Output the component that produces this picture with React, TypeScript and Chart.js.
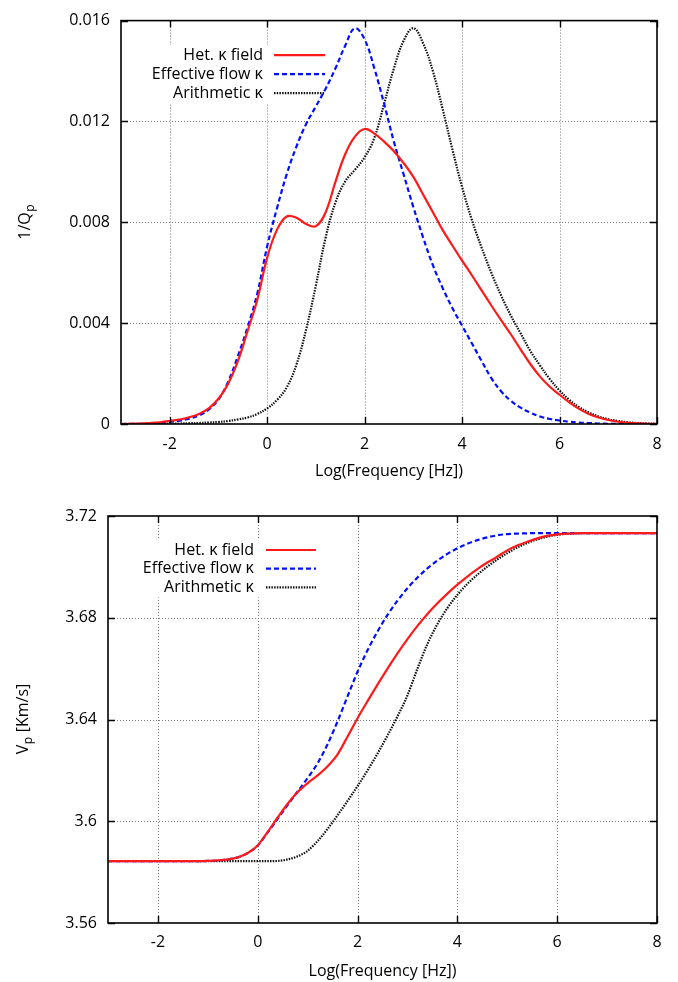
import React, { useEffect, useRef } from "react";
import { Chart, registerables } from "chart.js";

Chart.register(...registerables);

// ---------- data ----------
const logFreq = [
  -3, -2.8, -2.6, -2.4, -2.2, -2, -1.8, -1.6, -1.4, -1.2, -1, -0.8, -0.6, -0.4, -0.2,
  0, 0.2, 0.4, 0.6, 0.8, 1, 1.2, 1.4, 1.6, 1.8, 2, 2.2, 2.4, 2.6, 2.8, 3, 3.2, 3.4, 3.6, 3.8,
  4, 4.2, 4.4, 4.6, 4.8, 5, 5.2, 5.4, 5.6, 5.8, 6, 6.2, 6.4, 6.6, 6.8, 7, 7.2, 7.4, 7.6, 7.8, 8,
];

const seriesLabels = ["Het. κ field", "Effective flow κ", "Arithmetic κ"];

// 1/Qp
const qHet = [
  0, 0.00001, 0.00002, 0.00004, 0.00007, 0.00012, 0.00018, 0.00027, 0.0004, 0.00062, 0.001, 0.0016, 0.0025, 0.0037, 0.00495,
  0.0066, 0.0077, 0.00823, 0.00818, 0.00793, 0.00785, 0.0084, 0.0096, 0.0107, 0.0114, 0.0117, 0.01152, 0.0112, 0.01082, 0.01035,
  0.0098, 0.0091, 0.0084, 0.0077, 0.00708, 0.00648, 0.0059, 0.0053, 0.0047, 0.00412, 0.00356, 0.00296, 0.00238, 0.00188, 0.00148,
  0.00116, 0.00086, 0.0006, 0.0004, 0.00026, 0.00016, 0.00009, 0.00005, 0.00003, 0.00001, 0.00001,
];
const qEff = [
  0, 0.00001, 0.00001, 0.00002, 0.00004, 0.00008, 0.00013, 0.00021, 0.00034, 0.00057, 0.00097, 0.00168, 0.0027, 0.00385, 0.0052,
  0.00705, 0.00855, 0.0099, 0.011, 0.0119, 0.0126, 0.0133, 0.0141, 0.015, 0.0157, 0.01525, 0.0141, 0.0127, 0.0112, 0.0099,
  0.0086, 0.0074, 0.0063, 0.0054, 0.0046, 0.0039, 0.0032, 0.0025, 0.00182, 0.0013, 0.00092, 0.00065, 0.00045, 0.0003, 0.0002,
  0.00014, 0.00009, 0.00006, 0.00004, 0.00002, 0.00001, 0.00001, 0, 0, 0, 0,
];
const qArith = [
  0, 0, 0, 0.00001, 0.00001, 0.00002, 0.00002, 0.00003, 0.00004, 0.00006, 0.00008, 0.00012, 0.00018, 0.00026, 0.0004,
  0.00062, 0.00095, 0.00145, 0.00235, 0.00375, 0.0055, 0.0074, 0.00878, 0.00962, 0.01008, 0.01058, 0.01135, 0.0127, 0.0141, 0.0152,
  0.0157, 0.0151, 0.014, 0.0125, 0.0109, 0.0094, 0.0081, 0.007, 0.006, 0.0051, 0.0043, 0.0036, 0.0029, 0.00232, 0.00178,
  0.00133, 0.00096, 0.00067, 0.00046, 0.0003, 0.00019, 0.00012, 0.00007, 0.00004, 0.00002, 0.00001,
];

// Vp [Km/s]
const vHet = [
  3.5843, 3.5843, 3.5843, 3.5843, 3.5843, 3.5843, 3.5843, 3.5843, 3.5843, 3.5843, 3.5844, 3.5846, 3.585, 3.5858, 3.5875,
  3.5905, 3.5958, 3.6015, 3.6069, 3.6115, 3.615, 3.618, 3.6216, 3.6263, 3.6333, 3.6405, 3.6472, 3.6537, 3.66, 3.666,
  3.6716, 3.6768, 3.6815, 3.6857, 3.6895, 3.693, 3.6962, 3.6991, 3.7017, 3.704, 3.7065, 3.7084, 3.7099, 3.7112, 3.7122,
  3.7128, 3.7131, 3.7132, 3.7133, 3.7133, 3.7133, 3.7133, 3.7133, 3.7133, 3.7133, 3.7133,
];
const vEff = [
  3.5843, 3.5843, 3.5843, 3.5843, 3.5843, 3.5843, 3.5843, 3.5843, 3.5843, 3.5843, 3.5844, 3.5846, 3.585, 3.5858, 3.5875,
  3.5905, 3.5956, 3.601, 3.6064, 3.6117, 3.617, 3.6228, 3.6303, 3.6393, 3.6491, 3.6588, 3.6672, 3.6746, 3.6811, 3.6867,
  3.6916, 3.6958, 3.6994, 3.7025, 3.7051, 3.7073, 3.7091, 3.7105, 3.7116, 3.7124, 3.7129, 3.7131, 3.7132, 3.7133, 3.7133,
  3.7133, 3.7133, 3.7133, 3.7133, 3.7133, 3.7133, 3.7133, 3.7133, 3.7133, 3.7133, 3.7133,
];
const vArith = [
  3.5843, 3.5843, 3.5843, 3.5843, 3.5843, 3.5843, 3.5843, 3.5843, 3.5843, 3.5843, 3.5843, 3.5843, 3.5843, 3.5843, 3.5843,
  3.5843, 3.5843, 3.5844, 3.585, 3.5862, 3.5884, 3.5922, 3.597, 3.6024, 3.608, 3.6138, 3.62, 3.6266, 3.6337, 3.6412,
  3.6495, 3.66, 3.6697, 3.6775, 3.6838, 3.689, 3.6933, 3.6969, 3.7001, 3.7029, 3.7054, 3.7076, 3.7094, 3.7108, 3.7119,
  3.7126, 3.713, 3.7132, 3.7133, 3.7133, 3.7133, 3.7133, 3.7133, 3.7133, 3.7133, 3.7133,
];

const xTickValues = [-2, 0, 2, 4, 6, 8];
const qTickValues = [0, 0.004, 0.008, 0.012, 0.016];
const vTickValues = [3.56, 3.6, 3.64, 3.68, 3.72];
const xTitle = "Log(Frequency [Hz])";

// ---------- styling ----------
const FONT = '"Open Sans", "DejaVu Sans", sans-serif';
const FONT_SIZE = 16;
const seriesStyles = [
  { color: "#ff1a1a", width: 2.2, dash: [] as number[] },
  { color: "#0010ff", width: 2.2, dash: [5, 3] },
  { color: "#111111", width: 2.2, dash: [1.5, 1.2] },
];

const gnuplotStyle = {
  id: "gnuplotStyle",
  beforeDatasetsDraw(chart: any, _args: any, opts: any) {
    const { ctx, chartArea: a } = chart;
    const x = chart.scales.x;
    const y = chart.scales.y;
    ctx.save();
    // dotted grid
    ctx.strokeStyle = "#7c7c7c";
    ctx.lineWidth = 1;
    ctx.setLineDash([1, 2]);
    x.ticks.forEach((t: any) => {
      const px = Math.round(x.getPixelForValue(t.value)) + 0.5;
      if (px <= a.left + 2 || px >= a.right - 2) return;
      ctx.beginPath();
      ctx.moveTo(px, a.top);
      ctx.lineTo(px, a.bottom);
      ctx.stroke();
    });
    y.ticks.forEach((t: any) => {
      const py = Math.round(y.getPixelForValue(t.value)) + 0.5;
      if (py <= a.top + 2 || py >= a.bottom - 2) return;
      ctx.beginPath();
      ctx.moveTo(a.left, py);
      ctx.lineTo(a.right, py);
      ctx.stroke();
    });
    // legend (gnuplot key, opaque)
    const ds = chart.data.datasets;
    ctx.font = `${FONT_SIZE}px ${FONT}`;
    const maxW = Math.max(...ds.map((d: any) => ctx.measureText(d.label).width));
    const textRight = a.left + opts.keyTextRight;
    const sStart = a.left + opts.keySampleStart;
    const sEnd = a.left + opts.keySampleEnd;
    const row0 = a.top + opts.keyTop;
    const left = textRight - maxW - 4;
    ctx.setLineDash([]);
    ctx.fillStyle = "#fff";
    ctx.fillRect(left, row0 - 10, sEnd + 3 - left, opts.keyGap * (ds.length - 1) + 20);
    ds.forEach((d: any, i: number) => {
      const ry = row0 + i * opts.keyGap;
      ctx.fillStyle = "#000";
      ctx.textAlign = "right";
      ctx.textBaseline = "middle";
      ctx.fillText(d.label, textRight, ry);
      ctx.strokeStyle = d.borderColor;
      ctx.lineWidth = d.borderWidth;
      ctx.setLineDash(d.borderDash || []);
      ctx.beginPath();
      ctx.moveTo(sStart, ry);
      ctx.lineTo(sEnd, ry);
      ctx.stroke();
    });
    ctx.restore();
  },
  afterDatasetsDraw(chart: any) {
    const { ctx, chartArea: a } = chart;
    const x = chart.scales.x;
    const y = chart.scales.y;
    ctx.save();
    // frame
    ctx.setLineDash([]);
    ctx.strokeStyle = "#000";
    ctx.lineWidth = 1.6;
    ctx.strokeRect(a.left, a.top, a.right - a.left, a.bottom - a.top);
    // inward ticks
    const tl = 7;
    ctx.lineWidth = 1.4;
    x.ticks.forEach((t: any) => {
      const px = Math.round(x.getPixelForValue(t.value)) + 0.5;
      ctx.beginPath();
      ctx.moveTo(px, a.bottom);
      ctx.lineTo(px, a.bottom - tl);
      ctx.moveTo(px, a.top);
      ctx.lineTo(px, a.top + tl);
      ctx.stroke();
    });
    y.ticks.forEach((t: any) => {
      const py = Math.round(y.getPixelForValue(t.value)) + 0.5;
      ctx.beginPath();
      ctx.moveTo(a.left, py);
      ctx.lineTo(a.left + tl, py);
      ctx.moveTo(a.right, py);
      ctx.lineTo(a.right - tl, py);
      ctx.stroke();
    });
    ctx.restore();
  },
  afterDraw(chart: any, _args: any, opts: any) {
    const { ctx, chartArea: a } = chart;
    const [main, sub, rest] = opts.yTitle;
    ctx.save();
    ctx.translate(opts.yTitleX, (a.top + a.bottom) / 2);
    ctx.rotate(-Math.PI / 2);
    ctx.fillStyle = "#000";
    ctx.textBaseline = "alphabetic";
    ctx.textAlign = "left";
    ctx.font = `${FONT_SIZE}px ${FONT}`;
    const w1 = ctx.measureText(main).width;
    const w3 = ctx.measureText(rest).width;
    ctx.font = `12px ${FONT}`;
    const w2 = ctx.measureText(sub).width;
    const sx = -(w1 + w2 + w3) / 2;
    ctx.font = `${FONT_SIZE}px ${FONT}`;
    ctx.fillText(main, sx, 0);
    ctx.font = `12px ${FONT}`;
    ctx.fillText(sub, sx + w1 + 0.5, 4);
    ctx.font = `${FONT_SIZE}px ${FONT}`;
    ctx.fillText(rest, sx + w1 + w2 + 1, 0);
    ctx.restore();
  },
};

type PanelProps = {
  series: number[][];
  yTicks: number[];
  yTitle: string[];
  width: number;
  height: number;
  padTop: number;
  padRight: number;
  yAxisWidth: number;
  xAxisHeight: number;
  tickPad: number;
  titlePadBottom: number;
  keyOpts: any;
  yTitleX: number;
  smooth: "monotone" | "default";
};

function Panel(p: PanelProps) {
  const ref = useRef<HTMLCanvasElement | null>(null);
  useEffect(() => {
    if (!ref.current) return;
    const datasets = p.series.map((vals, i) => ({
      label: seriesLabels[i],
      data: logFreq.map((xv, j) => ({ x: xv, y: vals[j] })),
      borderColor: seriesStyles[i].color,
      borderWidth: seriesStyles[i].width,
      borderDash: seriesStyles[i].dash,
      pointRadius: 0,
      fill: false,
      tension: 0.4,
      cubicInterpolationMode: p.smooth,
    }));
    const tickFont = { family: FONT, size: FONT_SIZE };
    const chart = new Chart(ref.current, {
      type: "line",
      data: { datasets },
      plugins: [gnuplotStyle],
      options: {
        animation: false,
        responsive: false,
        devicePixelRatio: 1,
        events: [],
        layout: { padding: { left: 0, top: p.padTop, right: p.padRight, bottom: 0 } },
        plugins: {
          legend: { display: false },
          tooltip: { enabled: false },
          gnuplotStyle: { ...p.keyOpts, yTitle: p.yTitle, yTitleX: p.yTitleX },
        } as any,
        scales: {
          x: {
            type: "linear",
            min: -3,
            max: 8,
            afterBuildTicks: (s: any) => {
              s.ticks = xTickValues.map((v) => ({ value: v }));
            },
            afterFit: (s: any) => {
              s.height = p.xAxisHeight;
            },
            grid: { display: false, drawTicks: false },
            border: { display: false },
            ticks: {
              font: tickFont,
              color: "#000",
              padding: p.tickPad,
              maxRotation: 0,
              autoSkip: false,
              callback: (v: any) => String(v),
            },
            title: {
              display: true,
              text: xTitle,
              font: tickFont,
              color: "#000",
              padding: { top: 4, bottom: p.titlePadBottom },
            },
          },
          y: {
            type: "linear",
            min: p.yTicks[0],
            max: p.yTicks[p.yTicks.length - 1],
            afterBuildTicks: (s: any) => {
              s.ticks = p.yTicks.map((v) => ({ value: v }));
            },
            afterFit: (s: any) => {
              s.width = p.yAxisWidth;
            },
            grid: { display: false, drawTicks: false },
            border: { display: false },
            ticks: {
              font: tickFont,
              color: "#000",
              padding: 11,
              autoSkip: false,
              callback: (v: any) => String(Number(Number(v).toFixed(4))),
            },
          },
        },
      } as any,
    });
    return () => chart.destroy();
  }, []);
  return (
    <canvas
      ref={ref}
      width={p.width}
      height={p.height}
      style={{ display: "block", width: p.width, height: p.height }}
    />
  );
}

export default function App() {
  return (
    <div style={{ position: "absolute", left: 0, top: 0, width: 678, height: 982, background: "#fff" }}>
      <Panel
        series={[qHet, qEff, qArith]}
        yTicks={qTickValues}
        yTitle={["1/Q", "p", ""]}
        width={678}
        height={490}
        padTop={16}
        padRight={21}
        yAxisWidth={121}
        xAxisHeight={66}
        tickPad={11}
        titlePadBottom={9}
        keyOpts={{ keyTextRight: 142, keySampleStart: 153, keySampleEnd: 204, keyTop: 34.5, keyGap: 19 }}
        yTitleX={30}
        smooth="default"
      />
      <Panel
        series={[vHet, vEff, vArith]}
        yTicks={vTickValues}
        yTitle={["V", "p", " [Km/s]"]}
        width={678}
        height={492}
        padTop={26}
        padRight={21}
        yAxisWidth={108}
        xAxisHeight={59}
        tickPad={10}
        titlePadBottom={1}
        keyOpts={{ keyTextRight: 146, keySampleStart: 158, keySampleEnd: 208, keyTop: 34, keyGap: 18.7 }}
        yTitleX={28}
        smooth="monotone"
      />
    </div>
  );
}
